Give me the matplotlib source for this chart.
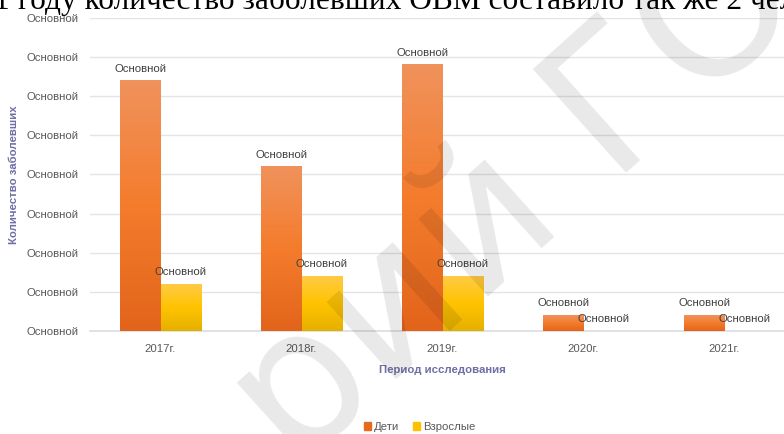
import numpy as np
import matplotlib
matplotlib.use("Agg")
import matplotlib.pyplot as plt
from matplotlib.colors import LinearSegmentedColormap

# Number of cases per year
years = ["2017г.", "2018г.", "2019г.", "2020г.", "2021г."]
children = [32, 21, 34, 2, 2]
adults = [6, 7, 7, 0, 0]
series_names = ["Дети", "Взрослые"]
y_ticks = [0, 5, 10, 15, 20, 25, 30, 35, 40]
tick_text = "Основной"

W, H = 784, 434
fig = plt.figure(figsize=(W / 100, H / 100), dpi=100)

def px(x0, y0, x1, y1):
    # pixel box (top-left origin) -> figure fraction rect
    return [x0 / W, 1 - y1 / H, (x1 - x0) / W, (y1 - y0) / H]

ax = fig.add_axes(px(90, 18, 795, 331))

x = np.arange(len(years))
bw = 0.284
fs = 8.2
orange = LinearSegmentedColormap.from_list("org", ["#e2641b", "#f47c2c", "#f0925c"])
yellow = LinearSegmentedColormap.from_list("yel", ["#e4b000", "#ffc300", "#ffcb45"])

grad = np.linspace(0, 1, 256).reshape(-1, 1)
for vals, offs, cmap, face in [(children, -bw / 2, orange, "#f07a2a"),
                               (adults, bw / 2, yellow, "#ffc000")]:
    cont = ax.bar(x + offs, vals, width=bw, color=face, zorder=2)
    for rect in cont:
        h = rect.get_height()
        if h <= 0:
            continue
        x0 = rect.get_x()
        ax.imshow(grad, extent=[x0, x0 + bw, 0, h], origin="lower",
                  aspect="auto", cmap=cmap, zorder=3)
    for xi, v in zip(x + offs, vals):
        ax.annotate(tick_text, (xi, v), xytext=(0, 5), textcoords="offset points",
                    ha="center", va="bottom", fontsize=fs, color="#404040",
                    family="Liberation Sans", zorder=4)

ax.set_xlim(-0.5, len(years) - 0.5)
ax.set_ylim(0, 40)
ax.set_yticks(y_ticks)
ax.set_yticklabels([tick_text] * len(y_ticks))
ax.set_xticks(x)
ax.set_xticklabels(years)
ax.tick_params(axis="both", length=0, labelsize=fs, labelcolor="#595959")
ax.tick_params(axis="y", pad=8.6)
ax.tick_params(axis="x", pad=9)
for lbl in ax.get_xticklabels() + ax.get_yticklabels():
    lbl.set_family("Liberation Sans")
ax.grid(axis="y", color="#e3e3ea", linewidth=1, zorder=0)
for s in ["top", "right", "left"]:
    ax.spines[s].set_visible(False)
ax.spines["bottom"].set_color("#dcdce4")
ax.spines["bottom"].set_linewidth(1.2)

ax.set_xlabel("Период исследования", fontsize=fs, fontweight="bold",
              color="#6f6fa6", family="Liberation Sans", labelpad=8)
fig.text(14 / W, 1 - 175 / H, "Количество заболевших", rotation=90,
         ha="center", va="center", fontsize=fs, fontweight="bold",
         color="#6f6fa6", family="Liberation Sans")

handles = [plt.Rectangle((0, 0), 1, 1, color="#e8691e"),
           plt.Rectangle((0, 0), 1, 1, color="#ffc000")]
fig.legend(handles, series_names, loc="center", bbox_to_anchor=(420 / W, 1 - 427 / H),
           ncol=2, frameon=False, handlelength=0.6, handleheight=0.6,
           handletextpad=0.3, columnspacing=1.2,
           prop={"family": "Liberation Sans", "size": fs}, labelcolor="#595959")

# heading line of the surrounding document, cut off at the top
fig.text(18 / W, 1 - 9 / H, "году количество заболевших ОВМ составило так же 2 человека",
         ha="left", va="baseline", fontsize=22.6, family="Liberation Serif", color="black")
fig.text(10 / W, 1 - 9 / H, "В 2021", ha="right", va="baseline", fontsize=22.6,
         family="Liberation Serif", color="black")

# watermark
fig.text(517 / W, 1 - 200 / H, "рий ГО", rotation=42, ha="center", va="center",
         fontsize=137, family="DejaVu Sans", color="black", alpha=0.09, zorder=10)

fig.savefig("out.png", dpi=100)
